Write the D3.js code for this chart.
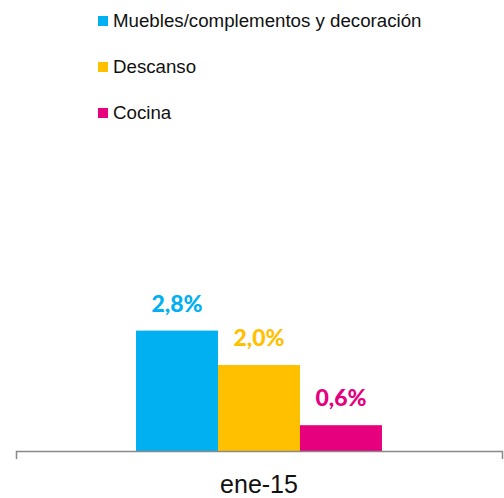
<!DOCTYPE html>
<html>
<head>
<meta charset="utf-8">
<script src="https://cdn.jsdelivr.net/npm/d3@7"></script>
<style>
  body { margin: 0; background: #fff; }
  svg { display: block; }
</style>
</head>
<body>
<div id="chart"></div>
<script>
const categories = ["ene-15"];
const series = ["Muebles/complementos y decoración", "Descanso", "Cocina"];
const values = [2.8, 2.0, 0.6];
const labels = ["2,8%", "2,0%", "0,6%"];
const colors = ["#00B0F0", "#FFC000", "#E6007E"];

const width = 504, height = 498;

const svg = d3.select("#chart").append("svg")
    .attr("width", width)
    .attr("height", height);

const x0 = d3.scaleBand()
    .domain(categories)
    .range([16, 502])
    .paddingInner(0)
    .paddingOuter(0.488);

const x1 = d3.scaleBand()
    .domain(series)
    .range([0, x0.bandwidth()]);

const y = d3.scaleLinear()
    .domain([0, 10])
    .range([451, 21]);

const color = d3.scaleOrdinal().domain(series).range(colors);

// barras
const group = svg.selectAll("g.cat")
    .data(categories)
    .enter().append("g")
    .attr("class", "cat")
    .attr("transform", d => `translate(${x0(d)},0)`);

group.selectAll("rect")
    .data(series.map((s, i) => ({ s, v: values[i], label: labels[i] })))
    .enter().append("rect")
    .attr("x", d => x1(d.s))
    .attr("y", d => y(d.v))
    .attr("width", x1.bandwidth())
    .attr("height", d => y(0) - y(d.v))
    .attr("fill", d => color(d.s));

// etiquetas de valor
group.selectAll("text.val")
    .data(series.map((s, i) => ({ s, v: values[i], label: labels[i] })))
    .enter().append("text")
    .attr("class", "val")
    .attr("x", d => x1(d.s) + x1.bandwidth() / 2)
    .attr("y", d => y(d.v) - 19)
    .attr("text-anchor", "middle")
    .attr("font-family", "Lato, 'Open Sans', sans-serif")
    .attr("font-weight", 900)
    .attr("font-size", 23)
    .attr("fill", d => color(d.s))
    .text(d => d.label);

// eje
const axis = svg.append("g")
    .attr("transform", `translate(0,${y(0)})`)
    .call(d3.axisBottom(x0).tickSize(0).tickSizeOuter(8).tickPadding(24));

axis.select(".domain")
    .attr("stroke", "#898989")
    .attr("stroke-width", 1.5);

axis.selectAll("text")
    .attr("font-family", "'Liberation Sans', Arial, sans-serif")
    .attr("font-size", 25)
    .attr("fill", "#111");

// leyenda
const legend = svg.selectAll("g.legend")
    .data(series)
    .enter().append("g")
    .attr("class", "legend")
    .attr("transform", (d, i) => `translate(98,${27 + i * 46})`);

legend.append("rect")
    .attr("x", 0)
    .attr("y", -11)
    .attr("width", 10)
    .attr("height", 10)
    .attr("fill", d => color(d));

legend.append("text")
    .attr("x", 15)
    .attr("y", 0)
    .attr("font-family", "'Liberation Sans', Arial, sans-serif")
    .attr("font-size", 18.7)
    .attr("fill", "#111")
    .text(d => d);
</script>
</body>
</html>
